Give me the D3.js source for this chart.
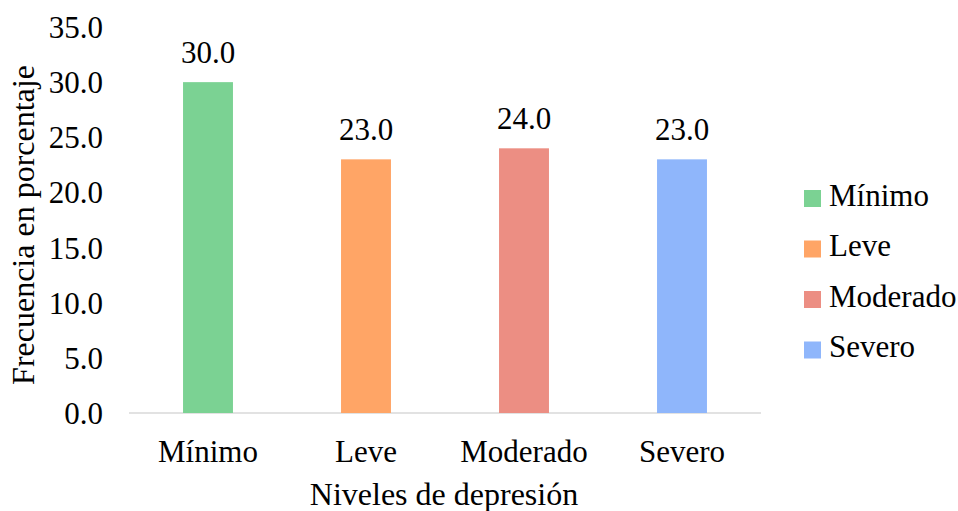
<!DOCTYPE html>
<html>
<head>
<meta charset="utf-8">
<script src="https://cdn.jsdelivr.net/npm/d3@7"></script>
<style>
  html, body { margin: 0; padding: 0; background: #fff; }
  svg text { font-family: "Liberation Serif", "Times New Roman", serif; fill: #000; }
</style>
</head>
<body>
<svg id="chart" width="958" height="511"></svg>
<script>
// Depression level distribution (percent)
const categories = ["Mínimo", "Leve", "Moderado", "Severo"];
const values = [30.0, 23.0, 24.0, 23.0];
const colors = ["#7bd293", "#ffa566", "#ec8e83", "#8fb6fb"];
const yTicks = [0, 5, 10, 15, 20, 25, 30, 35];

const svg = d3.select("#chart");
const margin = { left: 129, right: 197, top: 27, bottom: 98 };
const W = 958, H = 511;
const serif = "'Liberation Serif', 'Times New Roman', serif";

const x = d3.scaleBand()
  .domain(categories)
  .range([margin.left, W - margin.right])
  .paddingInner(0.684)
  .paddingOuter(0.342);

const y = d3.scaleLinear()
  .domain([0, 35])
  .range([H - margin.bottom, margin.top]);

const fs = 31;

// baseline
svg.append("line")
  .attr("x1", margin.left).attr("x2", W - margin.right)
  .attr("y1", y(0)).attr("y2", y(0))
  .attr("stroke", "#d9d9d9").attr("stroke-width", 1.5);

// y axis labels
const yAxis = d3.axisLeft(y).tickValues(yTicks).tickFormat(d3.format(".1f")).tickSize(0).tickPadding(0);
const gy = svg.append("g").attr("transform", "translate(103,0)").call(yAxis);
gy.attr("font-family", serif);
gy.select(".domain").remove();
gy.selectAll("text").style("font-size", fs + "px").attr("dy", "0.34em")
  .style("font-family", serif).attr("fill", "#000");

// x axis labels
const xAxis = d3.axisBottom(x).tickSize(0).tickPadding(0);
const gx = svg.append("g").attr("transform", `translate(0,${y(0)})`).call(xAxis);
gx.attr("font-family", serif);
gx.select(".domain").remove();
gx.selectAll("text").style("font-size", fs + "px").attr("dy", null).attr("y", 49)
  .style("font-family", serif).attr("fill", "#000");

// bars
svg.selectAll("rect.bar").data(values).join("rect")
  .attr("class", "bar")
  .attr("x", (d, i) => x(categories[i]))
  .attr("width", x.bandwidth())
  .attr("y", d => y(d))
  .attr("height", d => y(0) - y(d))
  .attr("fill", (d, i) => colors[i]);

// value labels
svg.selectAll("text.val").data(values).join("text")
  .attr("class", "val")
  .attr("x", (d, i) => x(categories[i]) + x.bandwidth() / 2)
  .attr("y", d => y(d) - 19)
  .attr("text-anchor", "middle")
  .style("font-size", fs + "px")
  .text(d => d.toFixed(1));

// axis titles
svg.append("text")
  .attr("x", 444)
  .attr("y", 505)
  .attr("text-anchor", "middle")
  .style("font-size", "32px")
  .text("Niveles de depresión");

svg.append("text")
  .attr("transform", "translate(34,225) rotate(-90)")
  .attr("text-anchor", "middle")
  .style("font-size", "32px")
  .text("Frecuencia en porcentaje");

// legend
const legend = svg.append("g").attr("transform", "translate(804,190)");
const lg = legend.selectAll("g").data(categories).join("g")
  .attr("transform", (d, i) => `translate(0,${i * 50.5})`);
lg.append("rect").attr("width", 17).attr("height", 17)
  .attr("fill", (d, i) => colors[i]);
lg.append("text").attr("x", 25).attr("y", 15.5)
  .style("font-size", "31px").text(d => d);
</script>
</body>
</html>
